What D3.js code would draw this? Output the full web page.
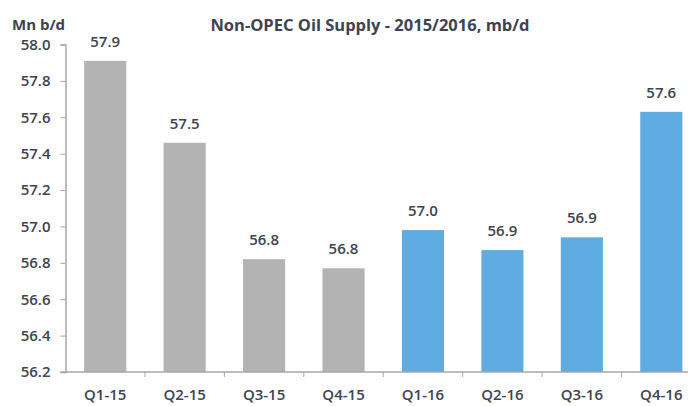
<!DOCTYPE html>
<html>
<head>
<meta charset="utf-8">
<script src="https://cdn.jsdelivr.net/npm/d3@7"></script>
<style>
  html, body { margin: 0; padding: 0; background: #fff; }
  svg { display: block; }
  text { font-family: "Open Sans", "Liberation Sans", sans-serif; fill: #3e4350; }
</style>
</head>
<body>
<div class="svg-content"></div>
<script>
// chart data
var quarters = ["Q1-15", "Q2-15", "Q3-15", "Q4-15", "Q1-16", "Q2-16", "Q3-16", "Q4-16"];
var supply = [57.91, 57.46, 56.82, 56.77, 56.98, 56.87, 56.94, 57.63];
var labels = ["57.9", "57.5", "56.8", "56.8", "57.0", "56.9", "56.9", "57.6"];
var years = ["2015", "2015", "2015", "2015", "2016", "2016", "2016", "2016"];
var yTicks = [56.2, 56.4, 56.6, 56.8, 57.0, 57.2, 57.4, 57.6, 57.8, 58.0];

var width = 688;
var height = 406;

var svg = d3.select(".svg-content")
  .append("svg")
  .attr("width", width)
  .attr("height", height);

// plot runs past the right edge, like the cropped original
var x = d3.scaleBand()
  .domain(quarters)
  .range([65.5, 701])
  .paddingInner(0.47)
  .paddingOuter(0.235);

var y = d3.scaleLinear()
  .domain([56.2, 58.0])
  .range([372, 44.5]);

var color = d3.scaleOrdinal()
  .domain(["2015", "2016"])
  .range(["#b3b3b3", "#5eace1"]);

// bars
svg.selectAll("rect.bar")
  .data(quarters)
  .enter()
  .append("rect")
  .attr("class", "bar")
  .attr("x", function(d) { return x(d); })
  .attr("width", x.bandwidth())
  .attr("y", function(d, i) { return y(supply[i]); })
  .attr("height", function(d, i) { return y(56.2) - y(supply[i]); })
  .attr("fill", function(d, i) { return color(years[i]); });

// value labels
svg.selectAll("text.val")
  .data(quarters)
  .enter()
  .append("text")
  .attr("class", "val")
  .attr("x", function(d) { return x(d) + x.bandwidth() / 2; })
  .attr("y", function(d, i) { return y(supply[i]) - 14; })
  .attr("text-anchor", "middle")
  .attr("font-size", "15px")
  .attr("font-weight", 600)
  .text(function(d, i) { return labels[i]; });

// y axis
var yAxis = svg.append("g")
  .attr("transform", "translate(65.5,0)")
  .call(d3.axisLeft(y).tickValues(yTicks).tickFormat(d3.format(".1f")).tickSize(5).tickPadding(10));

yAxis.select(".domain").attr("stroke", "#a6a6a6").attr("stroke-width", 1.5);
yAxis.selectAll(".tick line").attr("stroke", "#a6a6a6");
yAxis.selectAll(".tick text")
  .attr("font-size", "15px")
  .attr("font-weight", 600)
  .style("font-family", "'Open Sans', sans-serif")
  .attr("fill", "#3e4350");

// x axis, ticks at the band edges
var edges = quarters.map(function(d) { return x(d) - x.step() * x.paddingInner() / 2; });

var xg = svg.append("g").attr("class", "x-axis");
xg.append("line")
  .attr("x1", 60.5)
  .attr("x2", width)
  .attr("y1", y(56.2))
  .attr("y2", y(56.2))
  .attr("stroke", "#a6a6a6")
  .attr("stroke-width", 1.5);

xg.selectAll("line.tk")
  .data(edges.slice(1))
  .enter()
  .append("line")
  .attr("class", "tk")
  .attr("x1", function(d) { return d; })
  .attr("x2", function(d) { return d; })
  .attr("y1", y(56.2))
  .attr("y2", y(56.2) + 5)
  .attr("stroke", "#a6a6a6");

xg.selectAll("text")
  .data(quarters)
  .enter()
  .append("text")
  .attr("x", function(d) { return x(d) + x.bandwidth() / 2; })
  .attr("y", 400)
  .attr("text-anchor", "middle")
  .attr("font-size", "15px")
  .attr("font-weight", 600)
  .text(function(d) { return d; });

// titles
svg.append("text")
  .attr("x", 370)
  .attr("y", 31)
  .attr("text-anchor", "middle")
  .attr("font-size", "16.5px")
  .attr("font-weight", 700)
  .attr("fill", "#2b2f3a")
  .text("Non-OPEC Oil Supply  - 2015/2016, mb/d");

svg.append("text")
  .attr("x", 12)
  .attr("y", 30)
  .attr("font-size", "15px")
  .attr("font-weight", 700)
  .attr("fill", "#2b2f3a")
  .text("Mn b/d");
</script>
</body>
</html>
